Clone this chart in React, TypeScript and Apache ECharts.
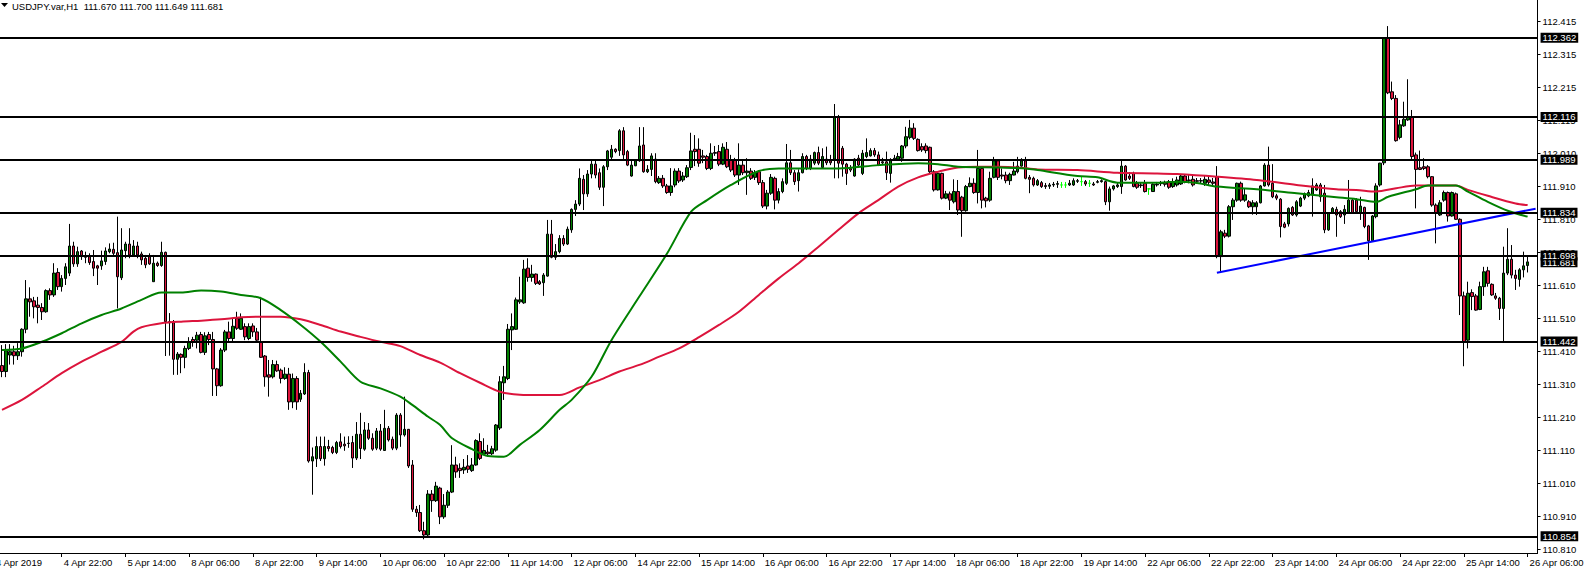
import React, { useEffect, useRef } from "react";
import * as echarts from "echarts";

const FONT = "'Liberation Sans', Arial, sans-serif";
const FS = 9.5;
const TITLE = "USDJPY.var,H1  111.670 111.700 111.649 111.681";
const FIRST_DATE_LABEL = "4 Apr 2019";

const OPEN = [
111.367,111.349,111.399,111.409,111.397,111.409,111.477,111.569,111.563,111.550,
111.543,111.530,111.594,111.581,111.649,111.606,111.631,111.647,111.729,111.675,
111.714,111.697,111.697,111.682,111.669,111.669,111.682,111.712,111.719,111.709,
111.633,111.715,111.735,111.702,111.729,111.705,111.692,111.697,111.621,111.677,
111.670,111.710,111.500,111.497,111.386,111.401,111.392,111.419,111.446,111.444,
111.461,111.407,111.461,111.446,111.357,111.306,111.414,111.469,111.449,111.510,
111.477,111.485,111.449,111.487,111.469,111.439,111.396,111.339,111.333,111.370,
111.353,111.328,111.341,111.257,111.328,111.265,111.281,111.346,111.078,111.085,
111.122,111.085,111.122,111.119,111.104,111.136,111.129,111.132,111.134,111.087,
111.159,111.114,111.172,111.147,111.117,111.169,111.110,111.177,111.144,111.117,
111.217,111.157,111.174,111.066,110.932,110.922,110.867,110.854,110.978,110.958,
110.996,110.909,110.944,110.984,111.066,111.056,111.051,111.063,111.049,111.066,
111.137,111.099,111.105,111.100,111.111,111.178,111.315,111.328,111.475,111.477,
111.560,111.557,111.662,111.634,111.644,111.621,111.618,111.638,111.765,111.695,
111.712,111.752,111.735,111.778,111.840,111.856,111.931,111.887,111.947,111.977,
111.951,111.907,111.969,111.998,112.022,112.018,112.078,112.015,111.941,111.972,
111.987,112.035,111.954,111.961,111.992,111.921,111.934,111.911,111.891,111.914,
111.956,111.929,111.939,111.967,112.022,112.022,112.002,112.000,111.964,112.012,
112.015,111.977,112.022,111.990,111.990,111.944,111.974,111.951,111.956,111.937,
111.954,111.921,111.850,111.889,111.934,111.868,111.894,111.919,111.981,111.951,
111.927,111.951,112.000,111.964,111.980,112.012,111.967,111.992,111.987,111.992,
112.121,112.025,111.977,111.964,111.941,111.995,111.949,112.000,112.002,112.018,
112.005,111.984,111.984,111.949,111.990,111.992,111.995,112.032,112.058,112.086,
112.052,112.030,112.032,112.028,111.954,111.899,111.949,111.874,111.887,111.863,
111.894,111.877,111.836,111.909,111.919,111.891,111.964,111.874,111.868,111.937,
111.987,111.944,111.944,111.927,111.944,111.954,111.971,111.987,111.937,111.934,
111.914,111.921,111.912,111.910,111.914,111.916,111.914,111.914,111.914,111.914,
111.925,111.924,111.924,111.919,111.917,111.922,111.924,111.924,111.863,111.902,
111.909,111.909,111.971,111.941,111.949,111.919,111.914,111.919,111.902,111.894,
111.914,111.918,111.920,111.924,111.909,111.914,111.917,111.941,111.929,111.931,
111.927,111.926,111.919,111.929,111.923,111.939,111.697,111.768,111.759,111.848,
111.868,111.919,111.868,111.863,111.848,111.848,111.860,111.911,111.974,111.919,
111.881,111.871,111.796,111.796,111.846,111.823,111.850,111.874,111.881,111.884,
111.899,111.914,111.889,111.778,111.830,111.840,111.833,111.823,111.830,111.868,
111.868,111.830,111.846,111.790,111.745,111.818,111.914,111.981,112.358,112.196,
112.176,112.058,112.093,112.111,112.119,112.005,111.966,111.969,111.969,111.939,
111.853,111.823,111.868,111.891,111.820,111.887,111.810,111.578,111.444,111.588,
111.578,111.537,111.606,111.654,111.613,111.578,111.571,111.540,111.647,111.689,
111.641,111.628,111.657,111.670
];

const CLOSE = [
111.349,111.412,111.409,111.397,111.409,111.477,111.569,111.560,111.545,111.543,
111.530,111.594,111.581,111.647,111.606,111.631,111.666,111.729,111.675,111.712,
111.697,111.695,111.679,111.662,111.662,111.684,111.714,111.720,111.707,111.636,
111.717,111.735,111.702,111.729,111.702,111.687,111.672,111.675,111.677,111.670,
111.710,111.500,111.497,111.386,111.402,111.392,111.419,111.439,111.439,111.459,
111.407,111.457,111.446,111.357,111.306,111.414,111.469,111.449,111.486,111.480,
111.510,111.454,111.485,111.469,111.444,111.392,111.333,111.332,111.370,111.351,
111.328,111.341,111.257,111.328,111.257,111.283,111.346,111.078,111.091,111.122,
111.085,111.122,111.116,111.104,111.134,111.122,111.124,111.131,111.087,111.159,
111.116,111.172,111.147,111.114,111.169,111.114,111.177,111.142,111.117,111.217,
111.157,111.174,111.063,110.932,110.922,110.867,110.854,110.978,110.958,111.002,
110.909,110.944,110.984,111.066,111.045,111.049,111.059,111.053,111.066,111.140,
111.086,111.110,111.100,111.115,111.187,111.318,111.333,111.477,111.485,111.566,
111.566,111.659,111.634,111.644,111.616,111.614,111.641,111.765,111.695,111.712,
111.752,111.735,111.780,111.840,111.856,111.934,111.887,111.947,111.977,111.944,
111.907,111.969,112.017,112.022,112.015,112.078,112.005,111.974,111.974,111.987,
112.032,111.954,111.961,112.002,111.924,111.934,111.911,111.891,111.911,111.956,
111.926,111.941,111.966,112.017,112.015,111.980,111.998,111.964,112.010,112.010,
111.977,112.028,111.969,111.959,111.944,111.974,111.951,111.956,111.934,111.951,
111.921,111.850,111.889,111.937,111.868,111.894,111.924,111.981,111.951,111.924,
111.951,112.000,111.964,111.992,112.012,111.980,112.000,111.981,111.981,112.119,
111.980,111.977,111.949,111.959,111.992,111.974,112.010,112.012,112.018,112.005,
111.974,111.981,111.951,111.990,111.995,112.000,112.032,112.060,112.086,112.055,
112.018,112.020,112.018,111.954,111.899,111.949,111.874,111.887,111.868,111.894,
111.838,111.836,111.909,111.919,111.891,111.964,111.868,111.866,111.934,111.987,
111.937,111.941,111.927,111.946,111.956,111.971,111.987,111.934,111.931,111.914,
111.927,111.909,111.909,111.914,111.916,111.918,111.914,111.914,111.919,111.927,
111.927,111.924,111.917,111.919,111.914,111.924,111.927,111.863,111.902,111.911,
111.914,111.971,111.929,111.934,111.909,111.907,111.912,111.894,111.902,111.916,
111.916,111.920,111.916,111.907,111.924,111.929,111.941,111.924,111.927,111.914,
111.925,111.927,111.931,111.922,111.919,111.697,111.772,111.759,111.848,111.868,
111.919,111.868,111.884,111.848,111.860,111.860,111.911,111.974,111.914,111.878,
111.874,111.788,111.786,111.843,111.823,111.863,111.874,111.887,111.891,111.911,
111.914,111.878,111.778,111.830,111.843,111.823,111.818,111.840,111.868,111.828,
111.833,111.850,111.788,111.745,111.820,111.911,111.980,112.358,112.193,112.176,
112.048,112.096,112.113,112.119,112.000,111.961,111.961,111.964,111.939,111.853,
111.828,111.860,111.891,111.820,111.891,111.810,111.578,111.439,111.586,111.576,
111.535,111.606,111.651,111.616,111.581,111.571,111.540,111.647,111.689,111.641,
111.631,111.657,111.669,111.681
];

const HIGH = [
111.429,111.432,111.432,111.427,111.435,111.480,111.626,111.604,111.575,111.575,
111.556,111.598,111.601,111.677,111.662,111.641,111.677,111.796,111.742,111.727,
111.717,111.712,111.707,111.717,111.672,111.715,111.725,111.737,111.739,111.818,
111.783,111.742,111.783,111.747,111.742,111.712,111.702,111.707,111.702,111.682,
111.742,111.712,111.526,111.505,111.408,111.404,111.427,111.453,111.454,111.469,
111.469,111.468,111.469,111.469,111.360,111.420,111.475,111.500,111.511,111.530,
111.525,111.495,111.495,111.495,111.481,111.575,111.399,111.384,111.384,111.382,
111.358,111.362,111.360,111.343,111.335,111.293,111.374,111.354,111.119,111.152,
111.152,111.152,111.142,111.124,111.139,111.162,111.152,111.153,111.154,111.196,
111.224,111.196,111.193,111.162,111.178,111.190,111.233,111.184,111.152,111.223,
111.223,111.273,111.175,111.081,110.942,110.945,110.894,110.990,110.990,111.015,
111.000,110.978,110.990,111.126,111.091,111.071,111.084,111.096,111.087,111.144,
111.162,111.147,111.127,111.124,111.190,111.335,111.366,111.493,111.525,111.573,
111.636,111.687,111.692,111.672,111.646,111.626,111.647,111.808,111.808,111.735,
111.762,111.762,111.788,111.843,111.868,111.964,111.944,111.959,111.987,111.987,
111.964,111.974,112.020,112.035,112.025,112.083,112.089,112.020,111.990,111.990,
112.089,112.089,111.974,112.010,112.010,111.941,111.944,111.917,111.965,111.964,
111.965,111.953,111.974,112.072,112.065,112.055,112.020,112.005,112.040,112.032,
112.035,112.040,112.044,112.005,111.996,112.040,111.990,111.995,111.965,111.959,
111.959,111.929,111.899,111.947,111.939,111.904,111.934,112.038,112.020,111.959,
111.961,112.010,112.005,112.005,112.015,112.030,112.025,112.030,112.005,112.159,
112.126,112.032,111.981,111.974,111.995,112.005,112.020,112.055,112.025,112.026,
112.015,111.996,112.015,111.995,112.005,112.011,112.035,112.090,112.111,112.101,
112.055,112.040,112.040,112.030,111.959,111.951,111.951,111.896,111.894,111.931,
111.929,111.881,111.914,111.937,111.934,112.020,111.971,111.878,111.954,111.999,
111.990,111.964,111.954,111.951,111.984,111.999,111.995,111.999,111.944,111.939,
111.932,111.926,111.920,111.920,111.923,111.926,111.923,111.923,111.929,111.934,
111.932,111.938,111.929,111.929,111.923,111.929,111.931,111.927,111.909,111.914,
111.923,111.987,111.974,111.953,111.954,111.926,111.920,111.929,111.904,111.919,
111.923,111.926,111.927,111.929,111.934,111.939,111.947,111.947,111.944,111.944,
111.935,111.935,111.941,111.938,111.935,111.971,111.778,111.778,111.853,111.874,
111.921,111.924,111.904,111.868,111.868,111.865,111.914,111.980,112.030,111.977,
111.887,111.874,111.802,111.846,111.850,111.868,111.878,111.891,111.899,111.934,
111.920,111.920,111.914,111.832,111.847,111.848,111.838,111.853,111.929,111.874,
111.874,111.878,111.848,111.793,111.823,111.919,111.981,112.361,112.395,112.227,
112.186,112.111,112.166,112.234,112.141,112.012,112.018,111.995,111.974,111.941,
111.858,111.868,111.897,111.894,111.894,111.891,111.813,111.591,111.621,111.598,
111.584,111.621,111.666,111.666,111.616,111.587,111.575,111.727,111.783,111.732,
111.657,111.662,111.712,111.700
];

const LOW = [
111.332,111.332,111.370,111.370,111.384,111.394,111.465,111.515,111.510,111.495,
111.505,111.527,111.566,111.575,111.596,111.591,111.611,111.638,111.666,111.666,
111.687,111.677,111.672,111.638,111.611,111.657,111.672,111.707,111.697,111.540,
111.626,111.692,111.692,111.697,111.692,111.672,111.662,111.672,111.621,111.666,
111.666,111.396,111.397,111.339,111.339,111.344,111.359,111.414,111.424,111.419,
111.404,111.399,111.429,111.275,111.275,111.303,111.408,111.439,111.439,111.475,
111.475,111.444,111.444,111.454,111.438,111.390,111.303,111.273,111.328,111.348,
111.313,111.324,111.233,111.238,111.233,111.257,111.278,111.073,110.976,111.060,
111.078,111.064,111.107,111.099,111.099,111.116,111.109,111.118,111.057,111.081,
111.084,111.109,111.142,111.109,111.111,111.109,111.109,111.137,111.111,111.111,
111.121,111.152,111.057,110.924,110.909,110.863,110.841,110.845,110.924,110.954,
110.887,110.903,110.936,110.981,111.027,111.027,111.039,111.042,111.045,111.064,
111.081,111.096,111.091,111.096,111.106,111.172,111.263,111.323,111.414,111.475,
111.554,111.554,111.621,111.621,111.611,111.611,111.578,111.636,111.692,111.687,
111.707,111.729,111.732,111.769,111.820,111.850,111.838,111.878,111.934,111.934,
111.899,111.850,111.959,111.992,112.010,112.002,111.989,111.971,111.939,111.971,
111.984,111.951,111.950,111.941,111.919,111.917,111.905,111.887,111.881,111.907,
111.920,111.923,111.935,111.959,111.971,111.969,111.980,111.959,111.959,112.002,
111.971,111.974,111.965,111.953,111.938,111.914,111.944,111.884,111.929,111.929,
111.914,111.844,111.840,111.884,111.840,111.858,111.889,111.914,111.944,111.914,
111.894,111.949,111.959,111.959,111.974,111.974,111.964,111.974,111.974,111.934,
111.934,111.939,111.914,111.953,111.939,111.968,111.944,111.995,112.000,111.999,
111.971,111.974,111.929,111.921,111.987,111.990,111.984,112.025,112.052,112.050,
112.015,112.014,112.010,111.949,111.894,111.897,111.870,111.871,111.838,111.858,
111.823,111.757,111.833,111.907,111.887,111.858,111.843,111.846,111.863,111.934,
111.929,111.931,111.919,111.914,111.943,111.949,111.969,111.931,111.889,111.909,
111.911,111.905,111.902,111.902,111.908,111.905,111.905,111.905,111.911,111.911,
111.920,111.911,111.911,111.908,111.911,111.919,111.921,111.853,111.836,111.897,
111.905,111.887,111.927,111.929,111.907,111.902,111.905,111.891,111.884,111.893,
111.909,111.911,111.909,111.902,111.905,111.909,111.914,111.919,111.919,111.909,
111.917,111.917,111.911,111.914,111.911,111.692,111.651,111.753,111.755,111.808,
111.863,111.863,111.863,111.844,111.824,111.823,111.858,111.909,111.909,111.874,
111.868,111.755,111.783,111.788,111.820,111.818,111.847,111.868,111.877,111.818,
111.896,111.863,111.768,111.775,111.826,111.757,111.814,111.796,111.828,111.826,
111.829,111.808,111.783,111.687,111.742,111.813,111.909,111.974,112.189,112.171,
112.045,112.052,112.090,112.108,111.990,111.843,111.959,111.959,111.934,111.848,
111.737,111.820,111.863,111.803,111.818,111.808,111.520,111.365,111.419,111.535,
111.533,111.535,111.578,111.606,111.578,111.566,111.505,111.440,111.641,111.631,
111.596,111.606,111.634,111.649
];

// Moving averages: [bar index, price]
const MA_GREEN = [
[0,111.414],[5,111.419],[10,111.439],[15,111.465],[20,111.495],[25,111.520],[30,111.540],[35,111.566],
[40,111.588],[45,111.588],[50,111.594],[55,111.591],[60,111.581],[65,111.571],[70,111.535],[75,111.490],
[80,111.439],[85,111.379],[90,111.318],[95,111.298],[100,111.273],[103,111.248],[107,111.212],[110,111.187],
[113,111.147],[118,111.114],[122,111.093],[126,111.091],[130,111.127],[135,111.172],[140,111.233],[143,111.263],
[148,111.333],[153,111.444],[160,111.576],[167,111.707],[173,111.833],[177,111.868],[183,111.914],[190,111.956],
[195,111.964],[200,111.964],[210,111.964],[220,111.974],[230,111.980],[235,111.977],[240,111.969],[250,111.967],
[257,111.964],[260,111.959],[270,111.941],[275,111.937],[280,111.921],[290,111.921],[295,111.924],[300,111.920],
[305,111.909],[315,111.901],[325,111.889],[335,111.877],[340,111.871],[345,111.863],[348,111.878],[355,111.901],
[358,111.912],[365,111.912],[368,111.894],[373,111.863],[378,111.836],[383,111.818]
];

const MA_RED = [
[0,111.233],[5,111.263],[10,111.303],[15,111.344],[20,111.379],[25,111.409],[30,111.439],[33,111.470],
[35,111.483],[40,111.495],[45,111.500],[50,111.503],[55,111.507],[60,111.513],[65,111.515],[70,111.515],
[75,111.507],[80,111.490],[85,111.470],[90,111.454],[95,111.439],[100,111.426],[105,111.399],[110,111.376],
[115,111.344],[120,111.315],[125,111.288],[130,111.279],[135,111.278],[140,111.278],[145,111.301],[150,111.323],
[155,111.349],[160,111.369],[165,111.394],[170,111.419],[175,111.453],[180,111.490],[185,111.530],[190,111.581],
[195,111.631],[200,111.677],[205,111.727],[210,111.778],[215,111.828],[220,111.868],[225,111.909],[230,111.937],
[235,111.954],[240,111.967],[245,111.969],[250,111.969],[255,111.967],[260,111.961],[270,111.959],[280,111.951],
[290,111.949],[295,111.947],[305,111.939],[315,111.929],[325,111.914],[335,111.901],[340,111.899],[345,111.894],
[350,111.904],[355,111.912],[365,111.912],[368,111.899],[373,111.881],[380,111.858],[383,111.853]
];

const TREND = [[305, 111.648], [385, 111.842]];
const LEVELS = [112.362, 112.116, 111.989, 111.834, 111.698, 111.442, 110.854];
const CURRENT_PRICE = 111.681;

const Y_TICK_VALUES = [110.81,110.91,111.01,111.11,111.21,111.31,111.41,111.51,111.61,111.71,111.81,111.91,112.01,112.11,112.21,112.31,112.41];
const Y_TICK_TEXT = ["110.810","110.910","111.010","111.110","111.210","111.310","111.410","111.510","111.610","111.710","111.810","111.910","112.010","112.115","112.215","112.315","112.415"];
const Y_MIN = 110.7995;
const Y_MAX = 112.474;

const TICK_LABELS = ["4 Apr 22:00","5 Apr 14:00","8 Apr 06:00","8 Apr 22:00","9 Apr 14:00","10 Apr 06:00","10 Apr 22:00","11 Apr 14:00","12 Apr 06:00","14 Apr 22:00","15 Apr 14:00","16 Apr 06:00","16 Apr 22:00","17 Apr 14:00","18 Apr 06:00","18 Apr 22:00","19 Apr 14:00","22 Apr 06:00","22 Apr 22:00","23 Apr 14:00","24 Apr 06:00","24 Apr 22:00","25 Apr 14:00","26 Apr 06:00"];
const MONTHS = ["Jan","Feb","Mar","Apr","May","Jun","Jul","Aug","Sep","Oct","Nov","Dec"];

function buildCategories(n: number): string[] {
  const out: string[] = [];
  let t = Date.UTC(2019, 3, 4, 7);
  while (out.length < n) {
    const d = new Date(t);
    const day = d.getUTCDay();
    const h = d.getUTCHours();
    const closed = day === 6 || (day === 5 && h >= 22) || (day === 0 && h < 22);
    if (!closed) {
      out.push(d.getUTCDate() + " " + MONTHS[d.getUTCMonth()] + " " + String(h).padStart(2, "0") + ":00");
    }
    t += 3600000;
  }
  return out;
}

export default function App() {
  const ref = useRef<HTMLDivElement>(null);
  useEffect(() => {
    if (!ref.current) return;
    const chart = echarts.init(ref.current, undefined, { renderer: "svg" });
    const categories = buildCategories(OPEN.length + 2);
    const isTick = (i: number) => i % 16 === 15 && i < OPEN.length;
    const candles = OPEN.map((o, i) => {
      const item: any = { value: [o, CLOSE[i], LOW[i], HIGH[i]] };
      if (o === CLOSE[i]) {
        item.itemStyle = { color: "#00ff00", color0: "#00ff00", borderColor: "#00ff00", borderColor0: "#00ff00" };
      }
      return item;
    });
    const boxLabel = (v: number) => ({
      show: true,
      position: "end",
      distance: 3,
      formatter: v.toFixed(3),
      backgroundColor: "#000",
      color: "#fff",
      fontSize: FS,
      fontFamily: FONT,
      lineHeight: 10,
      padding: [0, 2, 0, 2],
    });
    chart.setOption({
      animation: false,
      backgroundColor: "#fff",
      grid: { left: -2, top: 0, width: 1544, height: 553 },
      xAxis: {
        type: "category",
        data: categories,
        boundaryGap: true,
        axisLine: { show: true, lineStyle: { color: "#000", width: 1 } },
        axisTick: { show: true, alignWithLabel: true, interval: (i: number) => isTick(i), length: 4, lineStyle: { color: "#000" } },
        axisLabel: {
          interval: (i: number) => isTick(i),
          formatter: (_v: string, i: number) => TICK_LABELS[(i - 15) / 16] ?? "",
          align: "left",
          margin: 4,
          padding: [0, 0, 0, 2],
          color: "#000",
          fontSize: FS,
          fontFamily: FONT,
        },
        splitLine: { show: false },
      },
      yAxis: {
        type: "value",
        position: "right",
        min: Y_MIN,
        max: Y_MAX,
        scale: true,
        axisLine: { show: true, lineStyle: { color: "#000", width: 1 } },
        axisTick: { show: true, length: 3, customValues: Y_TICK_VALUES, lineStyle: { color: "#000" } },
        axisLabel: {
          customValues: Y_TICK_VALUES,
          margin: 5,
          color: "#000",
          fontSize: FS,
          fontFamily: FONT,
          formatter: (v: number) => {
            let best = 0;
            Y_TICK_VALUES.forEach((t, k) => { if (Math.abs(t - v) < Math.abs(Y_TICK_VALUES[best] - v)) best = k; });
            return Y_TICK_TEXT[best];
          },
        },
        splitLine: { show: false },
      },
      graphic: [
        { type: "polygon", shape: { points: [[1, 3], [8, 3], [4.5, 7]] }, style: { fill: "#000" } },
        { type: "text", x: 12, y: 1, style: { text: TITLE, fill: "#000", font: FS + "px " + FONT } },
        { type: "text", x: -4, y: 557, style: { text: FIRST_DATE_LABEL, fill: "#000", font: FS + "px " + FONT } },
      ],
      series: [
        {
          type: "candlestick",
          data: candles,
          barWidth: 3,
          z: 2,
          itemStyle: { color: "#008000", color0: "#dc143c", borderColor: "#000", borderColor0: "#000", borderWidth: 1 },
        },
        {
          type: "line",
          data: MA_RED,
          showSymbol: false,
          symbol: "none",
          smooth: 0.3,
          z: 3,
          lineStyle: { color: "#dc143c", width: 2 },
        },
        {
          type: "line",
          data: MA_GREEN,
          showSymbol: false,
          symbol: "none",
          smooth: 0.3,
          z: 3,
          lineStyle: { color: "#008000", width: 2 },
        },
        {
          type: "line",
          data: TREND,
          showSymbol: false,
          symbol: "none",
          z: 4,
          lineStyle: { color: "#0000ff", width: 2 },
        },
        {
          type: "line",
          data: [],
          z: 4,
          markLine: {
            silent: true,
            symbol: ["none", "none"],
            lineStyle: { color: "rgba(0,0,0,0)", width: 1 },
            data: [{ yAxis: CURRENT_PRICE, label: boxLabel(CURRENT_PRICE) }],
          },
        },
        {
          type: "line",
          data: [],
          z: 5,
          markLine: {
            silent: true,
            symbol: ["none", "none"],
            lineStyle: { color: "#000", width: 2, type: "solid" },
            data: LEVELS.map((v) => ({ yAxis: v, label: boxLabel(v) })),
          },
        },
      ],
    });
    return () => chart.dispose();
  }, []);
  return (
    <div
      ref={ref}
      style={{ position: "fixed", left: 0, top: 0, width: 1587, height: 570, background: "#fff" }}
    />
  );
}
